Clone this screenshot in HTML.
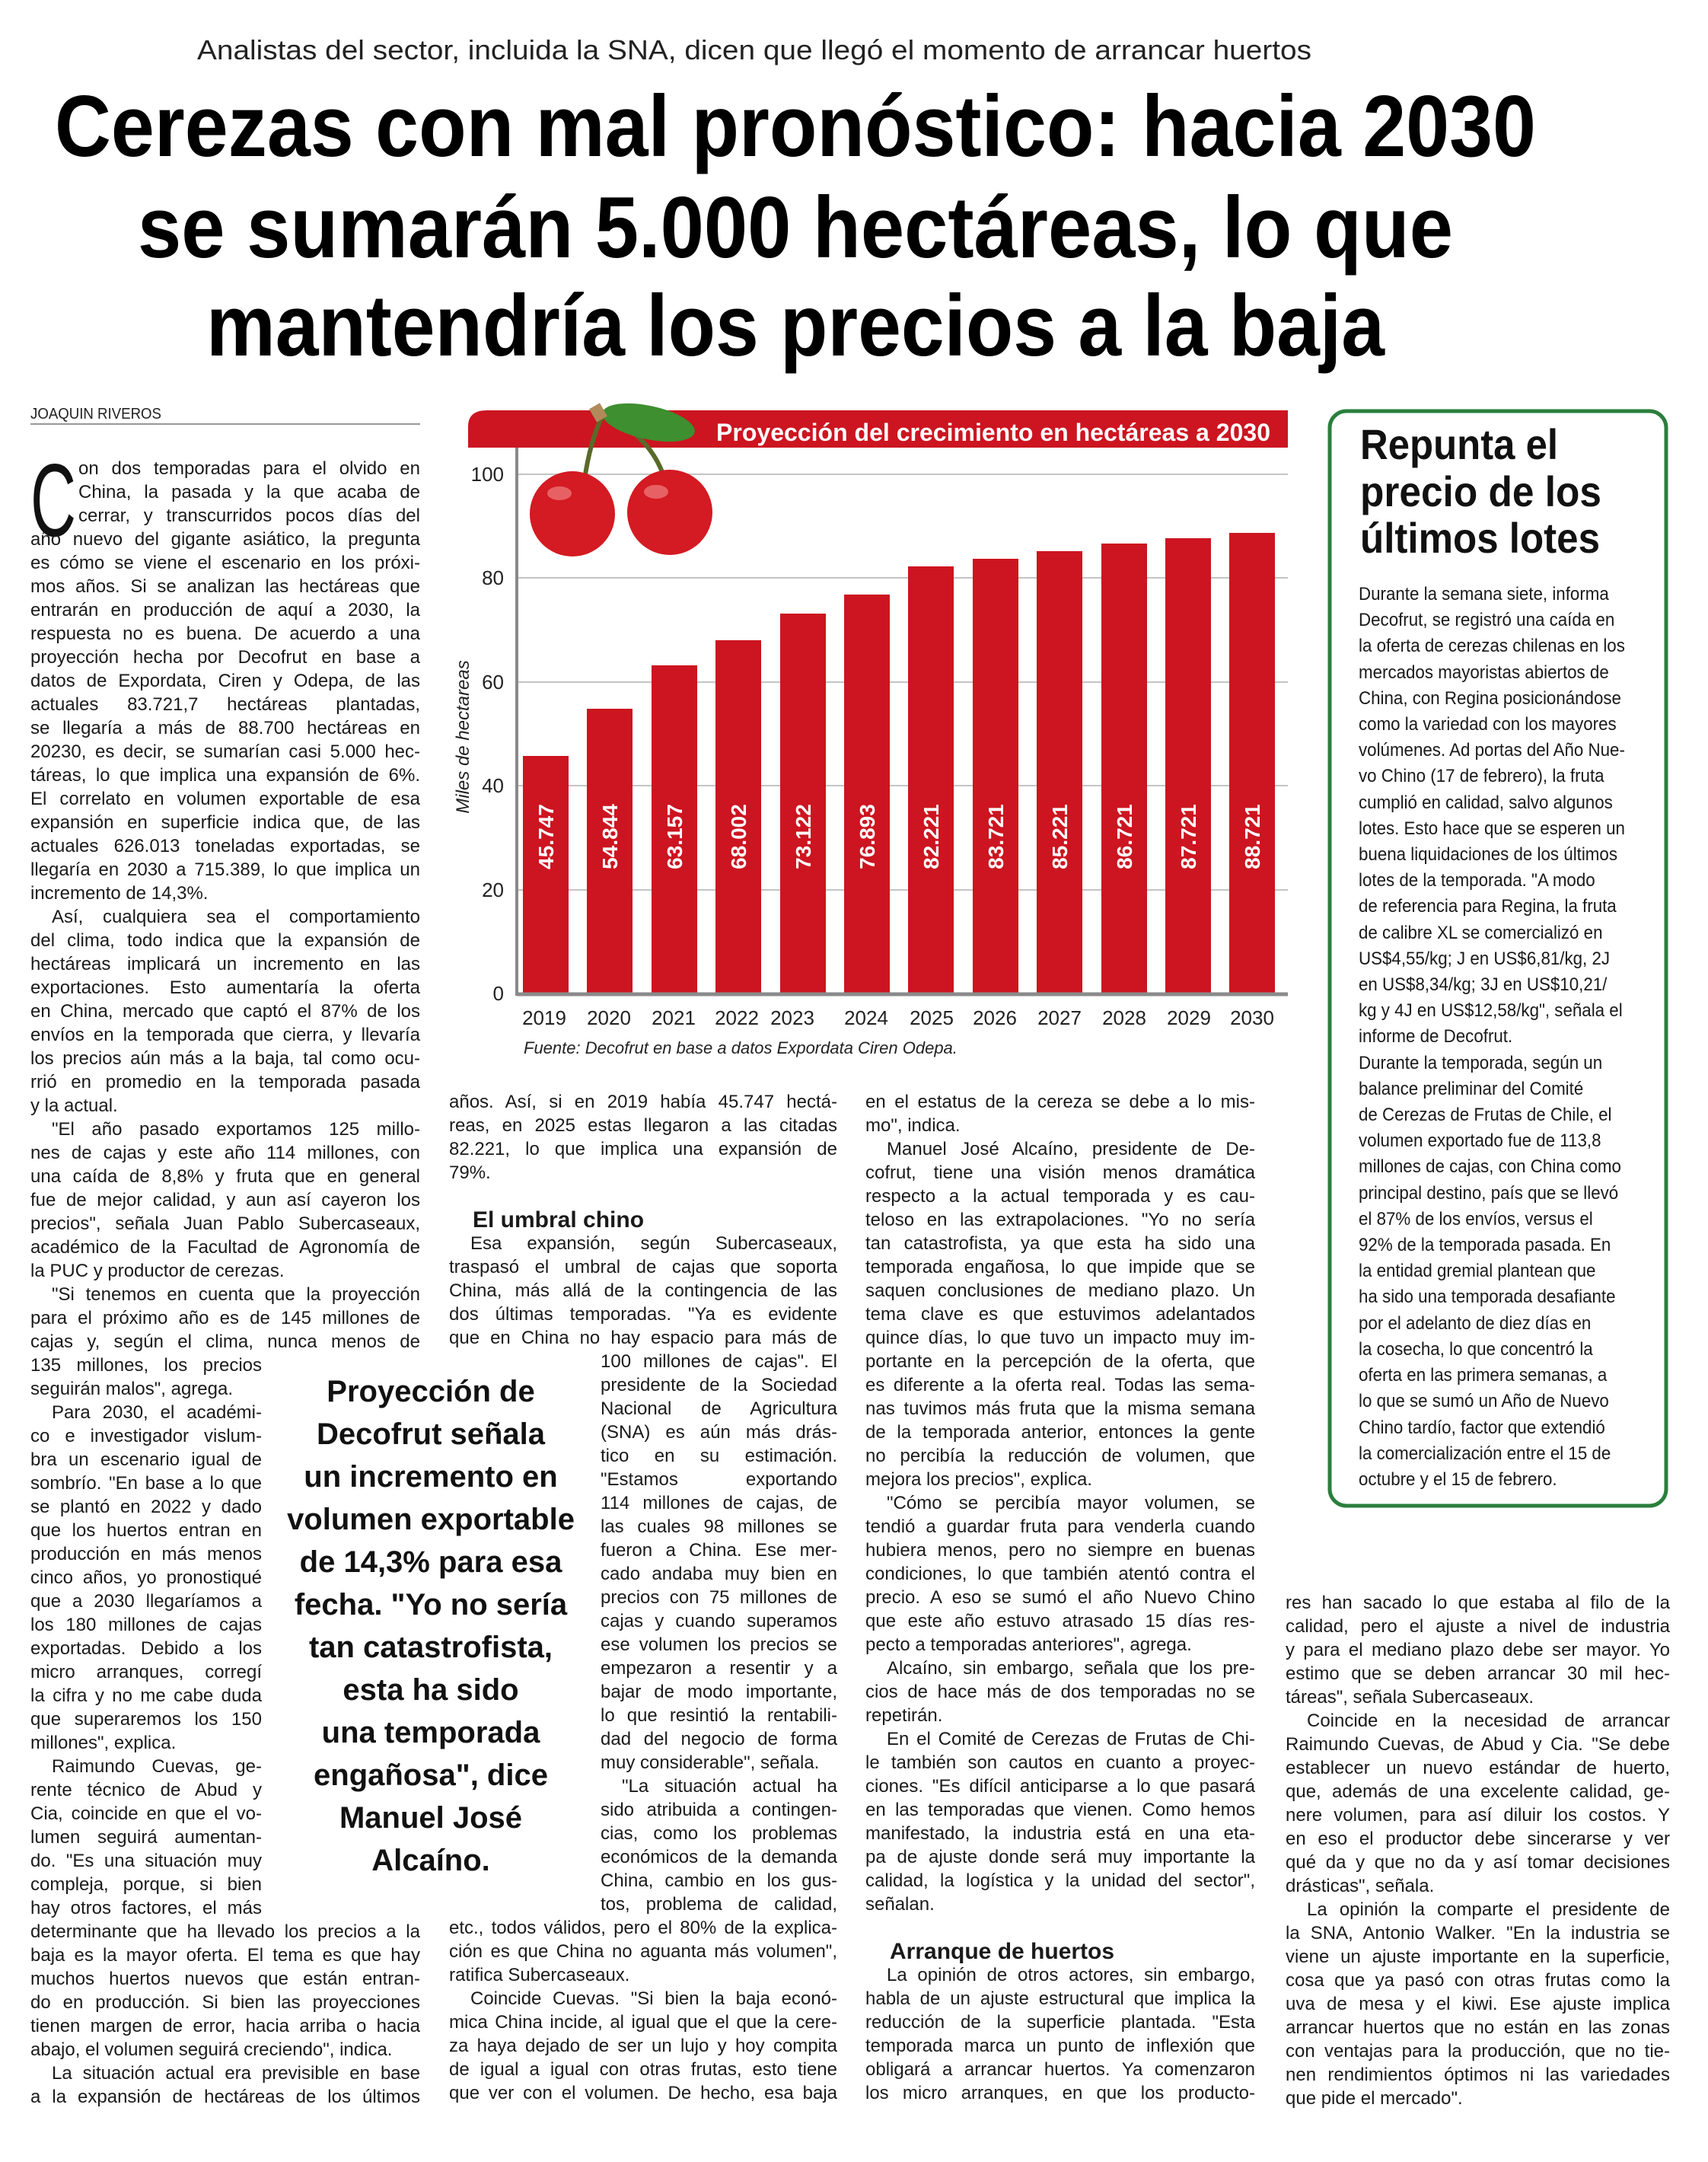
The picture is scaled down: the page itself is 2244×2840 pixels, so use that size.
<!DOCTYPE html>
<html><head><meta charset="utf-8">
<style>
*{margin:0;padding:0;box-sizing:border-box}
html,body{width:2244px;height:2840px;background:#fff;overflow:hidden}
body{position:relative;font-family:"Liberation Sans",sans-serif;color:#1a1a1a}
.col{position:absolute;font-size:24px;line-height:31px}
.col div{height:31px;white-space:nowrap;text-align:justify;text-align-last:justify}
.col div.l{text-align-last:left}
.col div.i{text-indent:28px}
.n1{width:304px}
.n2{margin-left:199px}
.h{font-weight:bold;font-size:30px;text-align-last:left!important}
.side{position:absolute;left:1785px;top:764px;font-size:24px;line-height:34.2px;transform:scaleX(0.93);transform-origin:0 0;white-space:nowrap;color:#1a1a1a}
.pq{position:absolute;left:370px;top:1800px;width:392px;text-align:center;font-weight:bold;font-size:40px;line-height:56px;color:#111;white-space:nowrap}
</style></head><body>
<svg width="2244" height="2840" style="position:absolute;left:0;top:0" xmlns="http://www.w3.org/2000/svg">
<text x="259" y="78" font-family="Liberation Sans" font-size="36" fill="#222" textLength="1464" lengthAdjust="spacingAndGlyphs">Analistas del sector, incluida la SNA, dicen que llegó el momento de arrancar huertos</text>
<g font-family="Liberation Sans" font-weight="bold" font-size="114" fill="#000">
<text x="72" y="205" textLength="1946" lengthAdjust="spacingAndGlyphs">Cerezas con mal pronóstico: hacia 2030</text>
<text x="181" y="338" textLength="1728" lengthAdjust="spacingAndGlyphs">se sumarán 5.000 hectáreas, lo que</text>
<text x="271" y="467" textLength="1548" lengthAdjust="spacingAndGlyphs">mantendría los precios a la baja</text>
</g>
<text x="40" y="550" font-family="Liberation Sans" font-size="20" fill="#222" textLength="172" lengthAdjust="spacingAndGlyphs">JOAQUIN RIVEROS</text>
<rect x="40" y="556" width="512" height="2" fill="#999"/>
<path d="M615 588 V560 Q615 539 640 539 H1692 V588 Z" fill="#cc1520"/>
<text x="941" y="579" font-family="Liberation Sans" font-weight="bold" font-size="32" fill="#fff" textLength="728" lengthAdjust="spacingAndGlyphs">Proyección del crecimiento en hectáreas a 2030</text>
<g stroke="#c4c4c4" stroke-width="2">
<line x1="679" y1="623" x2="1692" y2="623"/><line x1="679" y1="759" x2="1692" y2="759"/><line x1="679" y1="896" x2="1692" y2="896"/><line x1="679" y1="1032" x2="1692" y2="1032"/><line x1="679" y1="1169" x2="1692" y2="1169"/>
</g>
<line x1="679" y1="588" x2="679" y2="1308" stroke="#8a8a8a" stroke-width="4"/>
<g font-family="Liberation Sans" font-size="26" fill="#222" text-anchor="end">
<text x="662" y="632">100</text><text x="662" y="768">80</text><text x="662" y="905">60</text><text x="662" y="1041">40</text><text x="662" y="1178">20</text><text x="662" y="1314">0</text>
</g>
<text transform="translate(616,968) rotate(-90)" text-anchor="middle" font-family="Liberation Sans" font-style="italic" font-size="24" fill="#222">Miles de hectareas</text>
<g fill="#cc1520">
<rect x="687" y="993" width="60" height="312"/>
<rect x="771" y="931" width="60" height="374"/>
<rect x="856" y="874" width="60" height="431"/>
<rect x="940" y="841" width="60" height="464"/>
<rect x="1025" y="806" width="60" height="499"/>
<rect x="1109" y="781" width="60" height="524"/>
<rect x="1193" y="744" width="60" height="561"/>
<rect x="1278" y="734" width="60" height="571"/>
<rect x="1362" y="724" width="60" height="581"/>
<rect x="1447" y="714" width="60" height="591"/>
<rect x="1531" y="707" width="60" height="598"/>
<rect x="1615" y="700" width="60" height="605"/>
</g>
<line x1="679" y1="1306" x2="1692" y2="1306" stroke="#8a8a8a" stroke-width="5"/>
<g font-family="Liberation Sans" font-weight="bold" font-size="28" fill="#fff" text-anchor="middle">
<text transform="translate(727,1099) rotate(-90)">45.747</text>
<text transform="translate(811,1099) rotate(-90)">54.844</text>
<text transform="translate(896,1099) rotate(-90)">63.157</text>
<text transform="translate(980,1099) rotate(-90)">68.002</text>
<text transform="translate(1065,1099) rotate(-90)">73.122</text>
<text transform="translate(1149,1099) rotate(-90)">76.893</text>
<text transform="translate(1233,1099) rotate(-90)">82.221</text>
<text transform="translate(1318,1099) rotate(-90)">83.721</text>
<text transform="translate(1402,1099) rotate(-90)">85.221</text>
<text transform="translate(1487,1099) rotate(-90)">86.721</text>
<text transform="translate(1571,1099) rotate(-90)">87.721</text>
<text transform="translate(1655,1099) rotate(-90)">88.721</text>
</g>
<g font-family="Liberation Sans" font-size="26" fill="#222" text-anchor="middle">
<text x="715" y="1346">2019</text><text x="800" y="1346">2020</text><text x="885" y="1346">2021</text><text x="968" y="1346">2022</text><text x="1041" y="1346">2023</text><text x="1138" y="1346">2024</text><text x="1224" y="1346">2025</text><text x="1307" y="1346">2026</text><text x="1392" y="1346">2027</text><text x="1477" y="1346">2028</text><text x="1562" y="1346">2029</text><text x="1645" y="1346">2030</text>
</g>
<text x="688" y="1384" font-family="Liberation Sans" font-style="italic" font-size="22" fill="#222">Fuente: Decofrut en base a datos Expordata Ciren Odepa.</text>
<path d="M768 630 Q775 580 792 545" stroke="#5a6a2a" stroke-width="6" fill="none"/>
<path d="M870 620 Q850 570 794 545" stroke="#5a6a2a" stroke-width="6" fill="none"/>
<ellipse cx="852" cy="555" rx="62" ry="22" fill="#3d8f2f" transform="rotate(12 852 555)"/>
<rect x="778" y="532" width="16" height="20" fill="#b08a5a" transform="rotate(-30 786 542)"/>
<circle cx="752" cy="675" r="56" fill="#d41a22"/>
<circle cx="880" cy="673" r="56" fill="#d41a22"/>
<ellipse cx="735" cy="648" rx="16" ry="9" fill="#f08080" opacity="0.7"/>
<ellipse cx="862" cy="646" rx="16" ry="9" fill="#f08080" opacity="0.7"/>
<rect x="1747" y="540" width="442" height="1438" rx="22" fill="none" stroke="#2a7f3c" stroke-width="5"/>
<g font-family="Liberation Sans" font-weight="bold" font-size="56" fill="#111">
<text x="1787" y="603" textLength="260" lengthAdjust="spacingAndGlyphs">Repunta el</text>
<text x="1787" y="665" textLength="317" lengthAdjust="spacingAndGlyphs">precio de los</text>
<text x="1787" y="726" textLength="315" lengthAdjust="spacingAndGlyphs">últimos lotes</text>
</g>
<text x="40" y="704" font-family="Liberation Sans" font-size="136" fill="#111" textLength="60" lengthAdjust="spacingAndGlyphs">C</text>
</svg>

<div class="side">
Durante la semana siete, informa<br>Decofrut, se registró una caída en<br>la oferta de cerezas chilenas en los<br>mercados mayoristas abiertos de<br>China, con Regina posicionándose<br>como la variedad con los mayores<br>volúmenes. Ad portas del Año Nue-<br>vo Chino (17 de febrero), la fruta<br>cumplió en calidad, salvo algunos<br>lotes. Esto hace que se esperen un<br>buena liquidaciones de los últimos<br>lotes de la temporada. "A modo<br>de referencia para Regina, la fruta<br>de calibre XL se comercializó en<br>US$4,55/kg; J en US$6,81/kg, 2J<br>en US$8,34/kg; 3J en US$10,21/<br>kg y 4J en US$12,58/kg", señala el<br>informe de Decofrut.<br>Durante la temporada, según un<br>balance preliminar del Comité<br>de Cerezas de Frutas de Chile, el<br>volumen exportado fue de 113,8<br>millones de cajas, con China como<br>principal destino, país que se llevó<br>el 87% de los envíos, versus el<br>92% de la temporada pasada. En<br>la entidad gremial plantean que<br>ha sido una temporada desafiante<br>por el adelanto de diez días en<br>la cosecha, lo que concentró la<br>oferta en las primera semanas, a<br>lo que se sumó un Año de Nuevo<br>Chino tardío, factor que extendió<br>la comercialización entre el 15 de<br>octubre y el 15 de febrero.
</div>

<div class="pq">Proyección de<br>Decofrut señala<br>un incremento en<br>volumen exportable<br>de 14,3% para esa<br>fecha. "Yo no sería<br>tan catastrofista,<br>esta ha sido<br>una temporada<br>engañosa", dice<br>Manuel José<br>Alcaíno.</div>

<div class="col" style="left:40px;top:600px;width:512px">
<div style="margin-left:63px">on dos temporadas para el olvido en</div>
<div style="margin-left:63px">China, la pasada y la que acaba de</div>
<div style="margin-left:63px">cerrar, y transcurridos pocos días del</div>
<div>año nuevo del gigante asiático, la pregunta</div>
<div>es cómo se viene el escenario en los próxi-</div>
<div>mos años. Si se analizan las hectáreas que</div>
<div>entrarán en producción de aquí a 2030, la</div>
<div>respuesta no es buena. De acuerdo a una</div>
<div>proyección hecha por Decofrut en base a</div>
<div>datos de Expordata, Ciren y Odepa, de las</div>
<div>actuales 83.721,7 hectáreas plantadas,</div>
<div>se llegaría a más de 88.700 hectáreas en</div>
<div>20230, es decir, se sumarían casi 5.000 hec-</div>
<div>táreas, lo que implica una expansión de 6%.</div>
<div>El correlato en volumen exportable de esa</div>
<div>expansión en superficie indica que, de las</div>
<div>actuales 626.013 toneladas exportadas, se</div>
<div>llegaría en 2030 a 715.389, lo que implica un</div>
<div class="l">incremento de 14,3%.</div>
<div class="i">Así, cualquiera sea el comportamiento</div>
<div>del clima, todo indica que la expansión de</div>
<div>hectáreas implicará un incremento en las</div>
<div>exportaciones. Esto aumentaría la oferta</div>
<div>en China, mercado que captó el 87% de los</div>
<div>envíos en la temporada que cierra, y llevaría</div>
<div>los precios aún más a la baja, tal como ocu-</div>
<div>rrió en promedio en la temporada pasada</div>
<div class="l">y la actual.</div>
<div class="i">"El año pasado exportamos 125 millo-</div>
<div>nes de cajas y este año 114 millones, con</div>
<div>una caída de 8,8% y fruta que en general</div>
<div>fue de mejor calidad, y aun así cayeron los</div>
<div>precios", señala Juan Pablo Subercaseaux,</div>
<div>académico de la Facultad de Agronomía de</div>
<div class="l">la PUC y productor de cerezas.</div>
<div class="i">"Si tenemos en cuenta que la proyección</div>
<div>para el próximo año es de 145 millones de</div>
<div>cajas y, según el clima, nunca menos de</div>
<div class="n1">135 millones, los precios</div>
<div class="n1 l">seguirán malos", agrega.</div>
<div class="n1 i">Para 2030, el académi-</div>
<div class="n1">co e investigador vislum-</div>
<div class="n1">bra un escenario igual de</div>
<div class="n1">sombrío. "En base a lo que</div>
<div class="n1">se plantó en 2022 y dado</div>
<div class="n1">que los huertos entran en</div>
<div class="n1">producción en más menos</div>
<div class="n1">cinco años, yo pronostiqué</div>
<div class="n1">que a 2030 llegaríamos a</div>
<div class="n1">los 180 millones de cajas</div>
<div class="n1">exportadas. Debido a los</div>
<div class="n1">micro arranques, corregí</div>
<div class="n1">la cifra y no me cabe duda</div>
<div class="n1">que superaremos los 150</div>
<div class="n1 l">millones", explica.</div>
<div class="n1 i">Raimundo Cuevas, ge-</div>
<div class="n1">rente técnico de Abud y</div>
<div class="n1">Cia, coincide en que el vo-</div>
<div class="n1">lumen seguirá aumentan-</div>
<div class="n1">do. "Es una situación muy</div>
<div class="n1">compleja, porque, si bien</div>
<div class="n1">hay otros factores, el más</div>
<div>determinante que ha llevado los precios a la</div>
<div>baja es la mayor oferta. El tema es que hay</div>
<div>muchos huertos nuevos que están entran-</div>
<div>do en producción. Si bien las proyecciones</div>
<div>tienen margen de error, hacia arriba o hacia</div>
<div class="l">abajo, el volumen seguirá creciendo", indica.</div>
<div class="i">La situación actual era previsible en base</div>
<div>a la expansión de hectáreas de los últimos</div>
</div>

<div class="col" style="left:590px;top:1432px;width:510px">
<div>años. Así, si en 2019 había 45.747 hectá-</div>
<div>reas, en 2025 estas llegaron a las citadas</div>
<div>82.221, lo que implica una expansión de</div>
<div class="l">79%.</div>
<div></div>
<div class="h" style="padding-left:31px">El umbral chino</div>
<div class="i">Esa expansión, según Subercaseaux,</div>
<div>traspasó el umbral de cajas que soporta</div>
<div>China, más allá de la contingencia de las</div>
<div>dos últimas temporadas. "Ya es evidente</div>
<div>que en China no hay espacio para más de</div>
<div class="n2">100 millones de cajas". El</div>
<div class="n2">presidente de la Sociedad</div>
<div class="n2">Nacional de Agricultura</div>
<div class="n2">(SNA) es aún más drás-</div>
<div class="n2">tico en su estimación.</div>
<div class="n2">"Estamos exportando</div>
<div class="n2">114 millones de cajas, de</div>
<div class="n2">las cuales 98 millones se</div>
<div class="n2">fueron a China. Ese mer-</div>
<div class="n2">cado andaba muy bien en</div>
<div class="n2">precios con 75 millones de</div>
<div class="n2">cajas y cuando superamos</div>
<div class="n2">ese volumen los precios se</div>
<div class="n2">empezaron a resentir y a</div>
<div class="n2">bajar de modo importante,</div>
<div class="n2">lo que resintió la rentabili-</div>
<div class="n2">dad del negocio de forma</div>
<div class="n2 l">muy considerable", señala.</div>
<div class="n2 i">"La situación actual ha</div>
<div class="n2">sido atribuida a contingen-</div>
<div class="n2">cias, como los problemas</div>
<div class="n2">económicos de la demanda</div>
<div class="n2">China, cambio en los gus-</div>
<div class="n2">tos, problema de calidad,</div>
<div>etc., todos válidos, pero el 80% de la explica-</div>
<div>ción es que China no aguanta más volumen",</div>
<div class="l">ratifica Subercaseaux.</div>
<div class="i">Coincide Cuevas. "Si bien la baja econó-</div>
<div>mica China incide, al igual que el que la cere-</div>
<div>za haya dejado de ser un lujo y hoy compita</div>
<div>de igual a igual con otras frutas, esto tiene</div>
<div>que ver con el volumen. De hecho, esa baja</div>
</div>

<div class="col" style="left:1137px;top:1432px;width:512px">
<div>en el estatus de la cereza se debe a lo mis-</div>
<div class="l">mo", indica.</div>
<div class="i">Manuel José Alcaíno, presidente de De-</div>
<div>cofrut, tiene una visión menos dramática</div>
<div>respecto a la actual temporada y es cau-</div>
<div>teloso en las extrapolaciones. "Yo no sería</div>
<div>tan catastrofista, ya que esta ha sido una</div>
<div>temporada engañosa, lo que impide que se</div>
<div>saquen conclusiones de mediano plazo. Un</div>
<div>tema clave es que estuvimos adelantados</div>
<div>quince días, lo que tuvo un impacto muy im-</div>
<div>portante en la percepción de la oferta, que</div>
<div>es diferente a la oferta real. Todas las sema-</div>
<div>nas tuvimos más fruta que la misma semana</div>
<div>de la temporada anterior, entonces la gente</div>
<div>no percibía la reducción de volumen, que</div>
<div class="l">mejora los precios", explica.</div>
<div class="i">"Cómo se percibía mayor volumen, se</div>
<div>tendió a guardar fruta para venderla cuando</div>
<div>hubiera menos, pero no siempre en buenas</div>
<div>condiciones, lo que también atentó contra el</div>
<div>precio. A eso se sumó el año Nuevo Chino</div>
<div>que este año estuvo atrasado 15 días res-</div>
<div class="l">pecto a temporadas anteriores", agrega.</div>
<div class="i">Alcaíno, sin embargo, señala que los pre-</div>
<div>cios de hace más de dos temporadas no se</div>
<div class="l">repetirán.</div>
<div class="i">En el Comité de Cerezas de Frutas de Chi-</div>
<div>le también son cautos en cuanto a proyec-</div>
<div>ciones. "Es difícil anticiparse a lo que pasará</div>
<div>en las temporadas que vienen. Como hemos</div>
<div>manifestado, la industria está en una eta-</div>
<div>pa de ajuste donde será muy importante la</div>
<div>calidad, la logística y la unidad del sector",</div>
<div class="l">señalan.</div>
<div></div>
<div class="h" style="padding-left:32px">Arranque de huertos</div>
<div class="i">La opinión de otros actores, sin embargo,</div>
<div>habla de un ajuste estructural que implica la</div>
<div>reducción de la superficie plantada. "Esta</div>
<div>temporada marca un punto de inflexión que</div>
<div>obligará a arrancar huertos. Ya comenzaron</div>
<div>los micro arranques, en que los producto-</div>
</div>

<div class="col" style="left:1689px;top:2090px;width:505px">
<div>res han sacado lo que estaba al filo de la</div>
<div>calidad, pero el ajuste a nivel de industria</div>
<div>y para el mediano plazo debe ser mayor. Yo</div>
<div>estimo que se deben arrancar 30 mil hec-</div>
<div class="l">táreas", señala Subercaseaux.</div>
<div class="i">Coincide en la necesidad de arrancar</div>
<div>Raimundo Cuevas, de Abud y Cia. "Se debe</div>
<div>establecer un nuevo estándar de huerto,</div>
<div>que, además de una excelente calidad, ge-</div>
<div>nere volumen, para así diluir los costos. Y</div>
<div>en eso el productor debe sincerarse y ver</div>
<div>qué da y que no da y así tomar decisiones</div>
<div class="l">drásticas", señala.</div>
<div class="i">La opinión la comparte el presidente de</div>
<div>la SNA, Antonio Walker. "En la industria se</div>
<div>viene un ajuste importante en la superficie,</div>
<div>cosa que ya pasó con otras frutas como la</div>
<div>uva de mesa y el kiwi. Ese ajuste implica</div>
<div>arrancar huertos que no están en las zonas</div>
<div>con ventajas para la producción, que no tie-</div>
<div>nen rendimientos óptimos ni las variedades</div>
<div class="l">que pide el mercado".</div>
</div>
</body></html>
